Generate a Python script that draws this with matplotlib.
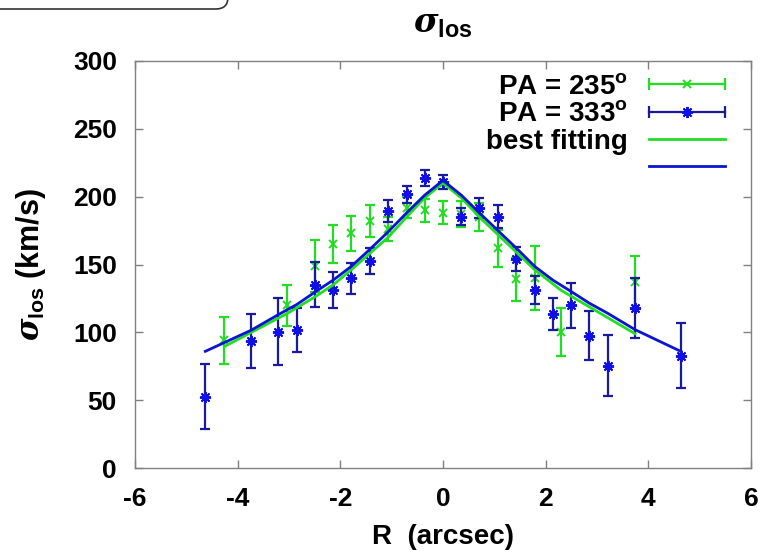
import matplotlib
matplotlib.use('Agg')
import matplotlib.pyplot as plt
from matplotlib.lines import Line2D
from matplotlib.legend_handler import HandlerLine2D, HandlerTuple
from matplotlib.patches import FancyBboxPatch

plt.rcParams['font.family'] = ['Liberation Sans', 'DejaVu Sans']
plt.rcParams['font.weight'] = 'bold'
plt.rcParams['mathtext.fontset'] = 'custom'
plt.rcParams['mathtext.it'] = 'DejaVu Serif:italic:bold'
plt.rcParams['mathtext.rm'] = 'Liberation Sans:bold'
plt.rcParams['mathtext.bf'] = 'Liberation Sans:bold'

# ---- data: PA = 235 deg ----
r_235 = [-4.26, -3.03, -2.50, -2.14, -1.79, -1.43, -1.07, -0.71, -0.36, 0.00,
         0.36, 0.71, 1.07, 1.43, 1.79, 2.30, 3.74]
sig_235 = [94, 120, 149, 165, 173, 182, 176, 192, 190, 188,
           187, 185, 162, 139, 140, 100, 137]
err_235 = [17, 15, 19, 14, 13, 12, 9, 8, 8.5, 8.5,
           9.5, 10, 13.5, 15.6, 23.5, 17.8, 19.6]

# ---- data: PA = 333 deg ----
r_333 = [-4.63, -3.74, -3.21, -2.85, -2.50, -2.14, -1.79, -1.43, -1.07, -0.71, -0.36, 0.00,
         0.36, 0.71, 1.07, 1.43, 1.79, 2.14, 2.50, 2.85, 3.21, 3.74, 4.63]
sig_333 = [52.5, 93.6, 100.5, 101.7, 135, 131.2, 139.8, 152.5, 189.4, 201.7, 213.5, 211,
           185.2, 191.4, 185.2, 154, 131.2, 113.5, 120, 97.5, 75.4, 118, 82.8]
err_333 = [24, 20, 24.5, 16.5, 16.6, 13.5, 11.5, 9.6, 8, 6.5, 6, 5.3,
           6.4, 7.4, 8.6, 8.6, 10.4, 11.5, 16.5, 18, 22.5, 22, 24]

# ---- best fitting curves ----
fit_235 = [89.5, 114, 126, 135, 146, 158, 170, 185, 199, 210,
           199, 185, 172, 159, 146, 131, 99]
fit_333 = [86, 101.5, 113, 120.5, 129.5, 138.5, 148.5, 161, 174, 188, 201, 212,
           201, 188, 175, 162, 148.5, 138.5, 130, 121.5, 114, 102, 86]

xticks = [-6, -4, -2, 0, 2, 4, 6]
yticks = [0, 50, 100, 150, 200, 250, 300]

GREEN = '#22dd22'
BLUE_ERR = '#1a1aa0'
BLUE_PT = '#1010e6'
BLUE_FIT = '#0a14d2'
FRAME = '#808080'

fig = plt.figure(figsize=(7.67, 5.52), dpi=100)
ax = fig.add_axes([135 / 767, 1 - 468 / 552, 616 / 767, 407 / 552])

ax.errorbar(r_235, sig_235, yerr=err_235, fmt='none', ecolor=GREEN,
            elinewidth=1.6, capsize=3.5, capthick=1.6, zorder=2)
ax.plot(r_235, sig_235, ls='none', marker='x', ms=6, mew=1.4, color=GREEN, zorder=2.1)
ax.errorbar(r_333, sig_333, yerr=err_333, fmt='none', ecolor=BLUE_ERR,
            elinewidth=1.6, capsize=3.5, capthick=1.6, zorder=3)
ax.plot(r_333, sig_333, ls='none', marker=(8, 2, 0), ms=8, mew=1.4, color=BLUE_PT, zorder=3.1)
ax.plot(r_235, fit_235, color=GREEN, lw=2.0, zorder=4)
ax.plot(r_333, fit_333, color=BLUE_FIT, lw=2.0, zorder=5)

ax.set_xlim(-6, 6)
ax.set_ylim(0, 300)
ax.set_xticks(xticks)
ax.set_yticks(yticks)
ax.set_xticklabels([str(v) for v in xticks])
ax.set_yticklabels([str(v) for v in yticks])
ax.tick_params(direction='in', length=6, width=1.0, color=FRAME, top=True, right=True,
               labelsize=19)
ax.tick_params(axis='x', pad=14)
ax.tick_params(axis='y', pad=13)
for lab in ax.get_xticklabels() + ax.get_yticklabels():
    lab.set_fontweight('bold')
for s in ax.spines.values():
    s.set_color(FRAME)
    s.set_linewidth(1.0)

ax.set_xlabel('R  (arcsec)', fontsize=20, fontweight='bold', labelpad=9)
ax.set_ylabel(r'$\sigma_{\mathrm{los}}$ (km/s)', fontsize=22, fontweight='bold', labelpad=18)
fig.text(443 / 767, 1 - 24 / 552, r'$\sigma_{\mathrm{los}}$', fontsize=24,
         ha='center', va='center')

# legend (gnuplot style: text right-aligned, sample on the right)
g_bar = Line2D([], [], color=GREEN, lw=1.6, marker='|', ms=9, mew=1.6)
g_pt = Line2D([], [], color=GREEN, ls='none', marker='x', ms=6, mew=1.4)
b_bar = Line2D([], [], color=BLUE_ERR, lw=1.6, marker='|', ms=9, mew=1.6)
b_pt = Line2D([], [], color=BLUE_PT, ls='none', marker=(8, 2, 0), ms=8, mew=1.4)
g_fit = Line2D([], [], color=GREEN, lw=2.0)
b_fit = Line2D([], [], color=BLUE_FIT, lw=2.0)
hmap = {g_bar: HandlerLine2D(numpoints=2, marker_pad=0),
        b_bar: HandlerLine2D(numpoints=2, marker_pad=0),
        g_pt: HandlerLine2D(numpoints=1),
        b_pt: HandlerLine2D(numpoints=1),
        tuple: HandlerTuple(ndivide=1)}
leg = ax.legend([(g_bar, g_pt), (b_bar, b_pt), g_fit, b_fit],
                [r'PA = 235$^{\mathrm{o}}$', r'PA = 333$^{\mathrm{o}}$', 'best fitting', ''],
                handler_map=hmap, loc='upper right', bbox_to_anchor=(0.958, 0.968),
                frameon=False, markerfirst=False, fontsize=20, handlelength=2.75,
                handletextpad=0.75, labelspacing=0.05, borderpad=0, borderaxespad=0)
for t in leg.get_texts():
    t.set_fontweight('bold')

# clipped rounded box at the top-left corner
box = FancyBboxPatch((-0.3, 5.43), 2.58, 0.6, boxstyle='round,pad=0,rounding_size=0.12',
                     transform=fig.dpi_scale_trans, fc='white', ec='#333333', lw=1.2)
fig.patches.append(box)

fig.savefig('out.png', dpi=100)
